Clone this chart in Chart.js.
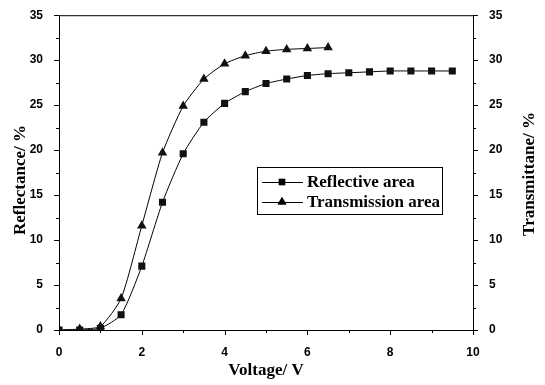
<!DOCTYPE html>
<html>
<head>
<meta charset="utf-8">
<script src="https://cdn.jsdelivr.net/npm/chart.js@4.4.1/dist/chart.umd.min.js"></script>
<style>
  html, body { margin: 0; padding: 0; background: #fff; }
  #wrap { width: 545px; height: 385px; }
</style>
</head>
<body>
<div id="wrap"><canvas id="chart" width="545" height="385"></canvas></div>
<script>
// values
const voltageR = [0, 0.5, 1, 1.5, 2, 2.5, 3, 3.5, 4, 4.5, 5, 5.5, 6, 6.5, 7, 7.5, 8, 8.5, 9, 9.5];
const reflectance = [0, 0, 0.2, 1.7, 7.1, 14.2, 19.6, 23.1, 25.2, 26.5, 27.4, 27.9, 28.3, 28.5, 28.6, 28.7, 28.8, 28.8, 28.8, 28.8];
const voltageT = [0, 0.5, 1, 1.5, 2, 2.5, 3, 3.5, 4, 4.5, 5, 5.5, 6, 6.5];
const transmittance = [0, 0.1, 0.4, 3.5, 11.6, 19.7, 24.9, 27.9, 29.6, 30.5, 31.0, 31.2, 31.3, 31.4];
const xTicks = [0, 2, 4, 6, 8, 10];
const yTicks = [0, 5, 10, 15, 20, 25, 30, 35];
const leftTitle = 'Reflectance/ %';
const rightTitle = 'Transmittane/ %';

const toPoints = (xs, ys) => xs.map((x, i) => ({ x, y: ys[i] }));

const tickFont = { family: 'Liberation Sans, Arial', size: 12, weight: 'bold' };
const serifBold = 'bold 17px "Liberation Serif", "Times New Roman"';

// outward major/minor ticks, frame and the two vertical titles
const axesPlugin = {
  id: 'axesPlugin',
  afterDraw(chart) {
    const ctx = chart.ctx;
    const { left, right, top, bottom } = chart.chartArea;
    const xs = chart.scales.x, ys = chart.scales.y;
    ctx.save();
    ctx.strokeStyle = '#000';
    ctx.lineWidth = 1;
    ctx.strokeRect(left + 0.5, top + 0.5, right - left, bottom - top);
    ctx.beginPath();
    for (let v = 0; v <= 10; v += 1) {
      const px = Math.round(xs.getPixelForValue(v)) + 0.5;
      const len = v % 2 === 0 ? 5 : 3;
      ctx.moveTo(px, bottom); ctx.lineTo(px, bottom + len);
    }
    for (let v = 0; v <= 35; v += 2.5) {
      const py = Math.round(ys.getPixelForValue(v)) + 0.5;
      const len = v % 5 === 0 ? 5 : 3;
      ctx.moveTo(left, py); ctx.lineTo(left - len, py);
      ctx.moveTo(right, py); ctx.lineTo(right + len, py);
    }
    ctx.stroke();

    ctx.fillStyle = '#000';
    ctx.font = serifBold;
    ctx.textAlign = 'center';
    ctx.textBaseline = 'middle';
    [[21, 180, leftTitle], [530, 174, rightTitle]].forEach(([cx, cy, txt]) => {
      ctx.save();
      ctx.translate(cx, cy);
      ctx.rotate(-Math.PI / 2);
      ctx.fillText(txt, 0, 0);
      ctx.restore();
    });
    ctx.restore();
  }
};

// legend box inside the plot
const legendPlugin = {
  id: 'legendPlugin',
  afterDraw(chart) {
    const ctx = chart.ctx;
    const bx = 257, by = 167, bw = 185, bh = 47;
    ctx.save();
    ctx.strokeStyle = '#000';
    ctx.lineWidth = 1;
    ctx.strokeRect(bx + 0.5, by + 0.5, bw, bh);
    ctx.font = serifBold;
    ctx.textBaseline = 'middle';
    ctx.fillStyle = '#000';
    chart.data.datasets.forEach((ds, i) => {
      const cy = by + 15 + i * 20;
      ctx.beginPath();
      ctx.moveTo(bx + 5, cy + 0.5); ctx.lineTo(bx + 46, cy + 0.5);
      ctx.stroke();
      Chart.helpers.drawPoint(ctx, { pointStyle: ds.pointStyle, radius: ds.pointRadius - 0.5, borderWidth: 0 }, bx + 25, cy);
      ctx.fill();
      ctx.fillText(ds.label, bx + 50, cy + 1);
    });
    ctx.restore();
  }
};

new Chart(document.getElementById('chart').getContext('2d'), {
  type: 'line',
  data: {
    datasets: [
      {
        label: 'Reflective area',
        data: toPoints(voltageR, reflectance),
        borderColor: '#000',
        backgroundColor: '#111',
        borderWidth: 1,
        pointStyle: 'rect',
        pointRadius: 5,
        pointBorderWidth: 0,
        tension: 0.2,
        yAxisID: 'y'
      },
      {
        label: 'Transmission area',
        data: toPoints(voltageT, transmittance),
        borderColor: '#000',
        backgroundColor: '#111',
        borderWidth: 1,
        pointStyle: 'triangle',
        pointRadius: 5.5,
        pointBorderWidth: 0,
        tension: 0.2,
        yAxisID: 'y2'
      }
    ]
  },
  options: {
    responsive: false,
    animation: false,
    layout: { padding: { top: 13 } },
    plugins: { legend: { display: false }, tooltip: { enabled: false } },
    scales: {
      x: {
        type: 'linear',
        min: 0, max: 10,
        afterBuildTicks: (s) => { s.ticks = xTicks.map(v => ({ value: v })); },
        afterFit: (s) => { s.height = 55; },
        grid: { display: false },
        border: { display: false },
        ticks: { color: '#000', font: tickFont, padding: 7, maxRotation: 0 },
        title: {
          display: true, text: 'Voltage/ V', color: '#000',
          font: { family: 'Liberation Serif, Times New Roman', size: 17, weight: 'bold' },
          padding: { top: 8 }
        }
      },
      y: {
        position: 'left',
        min: 0, max: 35,
        afterBuildTicks: (s) => { s.ticks = yTicks.map(v => ({ value: v })); },
        afterFit: (s) => { s.width = 59; },
        grid: { display: false },
        border: { display: false },
        ticks: { color: '#000', font: tickFont, padding: 8 }
      },
      y2: {
        position: 'right',
        min: 0, max: 35,
        afterBuildTicks: (s) => { s.ticks = yTicks.map(v => ({ value: v })); },
        afterFit: (s) => { s.width = 72; },
        grid: { display: false },
        border: { display: false },
        ticks: { color: '#000', font: tickFont, padding: 8 }
      }
    }
  },
  plugins: [axesPlugin, legendPlugin]
});
</script>
</body>
</html>
